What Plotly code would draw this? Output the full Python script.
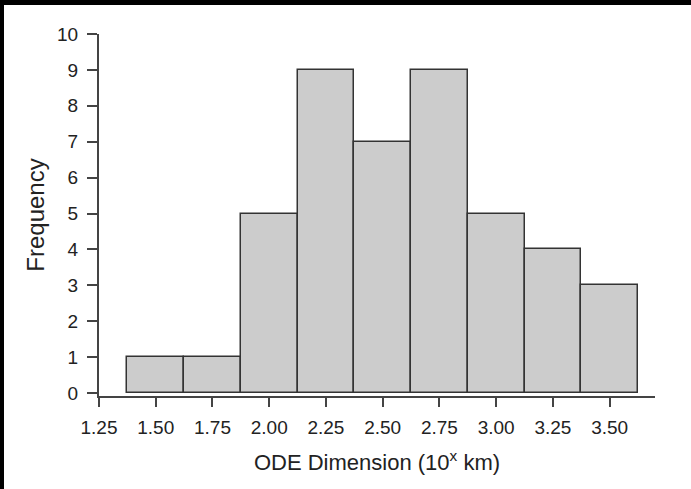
import plotly.graph_objects as go

# Data
bin_centers = [1.50, 1.75, 2.00, 2.25, 2.50, 2.75, 3.00, 3.25, 3.50]
frequencies = [1, 1, 5, 9, 7, 9, 5, 4, 3]
bin_width = 0.25
x_tickvals = [1.25, 1.50, 1.75, 2.00, 2.25, 2.50, 2.75, 3.00, 3.25, 3.50]
y_tickvals = list(range(0, 11))

# figure sits inside a black frame: 4 px on the left, 5 px on top
FRAME_L, FRAME_T = 4, 5
W, H = 691 - FRAME_L, 489 - FRAME_T
ML, MR, MT, MB = 99 - FRAME_L, 36, 34 - FRAME_T, 93

fig = go.Figure()
fig.add_trace(go.Bar(
    x=bin_centers, y=frequencies, width=[bin_width] * len(bin_centers),
    marker=dict(color="#cccccc", line=dict(color="#333333", width=1.5)),
    showlegend=False,
))

font = dict(family="Liberation Sans, Arial, sans-serif", color="#222222")

fig.update_layout(
    width=W, height=H,
    margin=dict(l=ML, r=MR, t=MT, b=MB, pad=0),
    paper_bgcolor="white", plot_bgcolor="white",
    font=dict(**font, size=19),
    bargap=0,
    xaxis=dict(
        range=[1.25, 3.70], tickvals=x_tickvals, tickformat=".2f",
        showgrid=False, zeroline=False,
        showline=True, linecolor="#444444", linewidth=2,
        ticks="outside", ticklen=9, tickwidth=2, tickcolor="#444444",
        tickfont=dict(size=19), ticklabelstandoff=4,
        title=dict(text="ODE Dimension (10<sup>x</sup> km)", font=dict(size=22), standoff=18),
    ),
    yaxis=dict(
        range=[-0.08, 10], tickvals=y_tickvals,
        showgrid=False, zeroline=False,
        showline=True, linecolor="#444444", linewidth=2,
        ticks="outside", ticklen=10, tickwidth=2, tickcolor="#444444",
        tickfont=dict(size=19), ticklabelstandoff=5,
        title=dict(text="Frequency", font=dict(size=24), standoff=6),
    ),
)

fig.write_html(
    "out.html",
    config={"displayModeBar": False},
    post_script=(
        "document.body.style.margin='0';"
        "document.body.style.overflow='hidden';"
        "document.body.style.background='black';"
        f"document.body.style.padding='{FRAME_T}px 0 0 {FRAME_L}px';"
    ),
)
